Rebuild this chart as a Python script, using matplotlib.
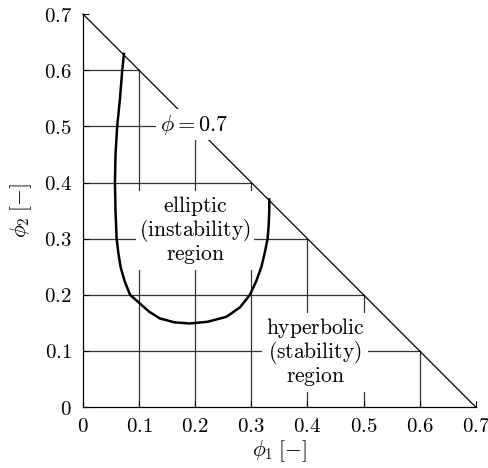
import numpy as np
import matplotlib
matplotlib.use("Agg")
import matplotlib.pyplot as plt

plt.rcParams['mathtext.fontset'] = 'cm'
plt.rcParams['font.family'] = 'serif'
plt.rcParams['font.serif'] = ['DejaVu Serif']

# total volume fraction phi = phi1 + phi2
phi_total = 0.7
grid_vals = [0.1, 0.2, 0.3, 0.4, 0.5, 0.6]
tick_vals = [0, 0.1, 0.2, 0.3, 0.4, 0.5, 0.6, 0.7]
tick_labels = [r'$0$', r'$0.1$', r'$0.2$', r'$0.3$', r'$0.4$', r'$0.5$', r'$0.6$', r'$0.7$']

# boundary between elliptic and hyperbolic regions
curve_phi1 = [0.073, 0.070, 0.066, 0.061, 0.058, 0.057, 0.058, 0.060, 0.063, 0.067,
              0.074, 0.084, 0.101, 0.118, 0.137, 0.163, 0.190, 0.222, 0.256, 0.280,
              0.2975, 0.309, 0.318, 0.324, 0.329, 0.331, 0.332, 0.332]
curve_phi2 = [0.629, 0.600, 0.550, 0.500, 0.450, 0.400, 0.350, 0.300, 0.275, 0.250,
              0.225, 0.200, 0.185, 0.170, 0.158, 0.151, 0.149, 0.152, 0.161, 0.178,
              0.200, 0.225, 0.250, 0.275, 0.300, 0.325, 0.350, 0.370]

fig = plt.figure(figsize=(4.88, 4.68), dpi=100)
ax = fig.add_axes([0.170, 0.130, 0.805, 0.840])

# grid clipped to the triangle
for v in grid_vals:
    ax.plot([0, phi_total - v], [v, v], color='#333333', lw=0.9, zorder=1)
    ax.plot([v, v], [0, phi_total - v], color='#333333', lw=0.9, zorder=1)

# phi = 0.7 line
ax.plot([0, phi_total], [phi_total, 0], color='black', lw=0.9, zorder=1, clip_on=False)

ax.plot(curve_phi1, curve_phi2, color='black', lw=1.8, zorder=3, solid_joinstyle='round')

box = dict(facecolor='white', edgecolor='none', pad=2.5)
ax.text(0.198, 0.503, r'$\phi = 0.7$', fontsize=16, ha='center', va='center', bbox=box, zorder=2)
ax.text(0.200, 0.315,
        r'$\mathrm{elliptic}$' + '\n' + r'$\mathrm{(instability)}$' + '\n' + r'$\mathrm{region}$',
        fontsize=15.5, ha='center', va='center', bbox=box, zorder=2, linespacing=0.95)
ax.text(0.414, 0.098,
        r'$\mathrm{hyperbolic}$' + '\n' + r'$\mathrm{(stability)}$' + '\n' + r'$\mathrm{region}$',
        fontsize=15.5, ha='center', va='center', bbox=box, zorder=2, linespacing=0.95)

ax.set_xlim(0, 0.7)
ax.set_ylim(0, 0.7)
ax.set_xticks(tick_vals)
ax.set_xticklabels(tick_labels)
ax.set_yticks(tick_vals)
ax.set_yticklabels(tick_labels)
ax.tick_params(direction='in', length=4, width=0.8, labelsize=15, pad=7)
ax.tick_params(axis='y', pad=8)
ax.spines['top'].set_visible(False)
ax.spines['right'].set_visible(False)
ax.spines['left'].set_linewidth(0.9)
ax.spines['bottom'].set_linewidth(0.9)

ax.set_xlabel(r'$\phi_1\;[-]$', fontsize=15.5, labelpad=2)
ax.set_ylabel(r'$\phi_2\;[-]$', fontsize=15.5, labelpad=7)

fig.savefig('out.png', dpi=100)
